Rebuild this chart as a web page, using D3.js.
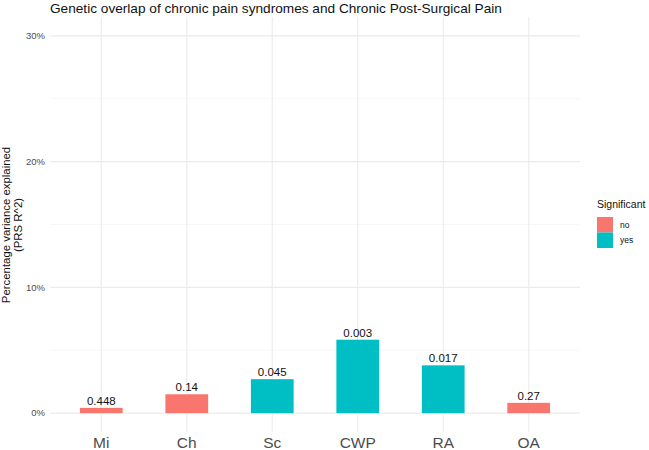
<!DOCTYPE html>
<html><head><meta charset="utf-8">
<script src="https://cdn.jsdelivr.net/npm/d3@7"></script>
<style>body{margin:0;background:#fff;font-family:"Liberation Sans",Arial,sans-serif;}</style>
</head><body>
<svg id="c" width="649" height="450"></svg>
<script>
const categories = ["Mi","Ch","Sc","CWP","RA","OA"];
const values = [0.42, 1.5, 2.7, 5.84, 3.8, 0.82];
const pLabels = ["0.448","0.14","0.045","0.003","0.017","0.27"];
const significant = ["no","no","yes","yes","yes","no"];
const yTicks = [0,10,20,30];
const yMinor = [5,15,25];
const legendLevels = ["no","yes"];
const colors = {no:"#F8766D", yes:"#00BFC4"};

const svg = d3.select("#c");
const L=50, R=580, T=17, B=432;
const x = d3.scalePoint().domain(categories).range([L,R]).padding(0.6);
const step = x.step();
const y = d3.scaleLinear().domain([-1.5,31.5]).range([B,T]);

const g = svg.append("g");
// minor gridlines
g.selectAll(".minor").data(yMinor).enter().append("line")
  .attr("x1",L).attr("x2",R).attr("y1",d=>y(d)).attr("y2",d=>y(d))
  .attr("stroke","#f0f0f0").attr("stroke-width",0.55);
// major gridlines
g.selectAll(".major").data(yTicks).enter().append("line")
  .attr("x1",L).attr("x2",R).attr("y1",d=>y(d)).attr("y2",d=>y(d))
  .attr("stroke","#ebebeb").attr("stroke-width",1.1);
g.selectAll(".vmaj").data(categories).enter().append("line")
  .attr("x1",d=>x(d)).attr("x2",d=>x(d)).attr("y1",T).attr("y2",B)
  .attr("stroke","#ebebeb").attr("stroke-width",1.1);

// bars
const bw = step*0.5;
g.selectAll(".bar").data(categories).enter().append("rect")
  .attr("x",d=>x(d)-bw/2).attr("width",bw)
  .attr("y",(d,i)=>y(values[i])).attr("height",(d,i)=>y(0)-y(values[i]))
  .attr("fill",(d,i)=>colors[significant[i]]);
// bar labels
g.selectAll(".bl").data(categories).enter().append("text")
  .attr("x",d=>x(d)).attr("y",(d,i)=>y(values[i])-3)
  .attr("text-anchor","middle").attr("font-size",11.5).attr("fill","#111")
  .text((d,i)=>pLabels[i]);

// y tick labels
g.selectAll(".yt").data(yTicks).enter().append("text")
  .attr("x",45).attr("y",d=>y(d)).attr("dy","0.35em")
  .attr("text-anchor","end").attr("font-size",9.5).attr("fill","#4d4d4d")
  .text(d=>d+"%");
// x tick labels
g.selectAll(".xt").data(categories).enter().append("text")
  .attr("x",d=>x(d)).attr("y",448)
  .attr("text-anchor","middle").attr("font-size",15.5).attr("fill","#4d4d4d")
  .text(d=>d);

// y title
const yt = svg.append("text").attr("transform","translate(0,225) rotate(-90)")
  .attr("text-anchor","middle").attr("font-size",11.4).attr("fill","#111");
yt.append("tspan").attr("x",0).attr("y",10).text("Percentage variance explained");
yt.append("tspan").attr("x",0).attr("y",21.5).text("(PRS R^2)");

// title
svg.append("text").attr("x",50).attr("y",12.5).attr("font-size",13.65).attr("fill","#111")
  .text("Genetic overlap of chronic pain syndromes and Chronic Post-Surgical Pain");

// legend
svg.append("text").attr("x",597).attr("y",208).attr("font-size",10.5).attr("fill","#111").text("Significant");
const lg = svg.selectAll(".lg").data(legendLevels).enter().append("g")
  .attr("transform",(d,i)=>`translate(597,${217+i*15.5})`);
lg.append("rect").attr("width",16).attr("height",15.5).attr("fill",d=>colors[d]);
lg.append("text").attr("x",23).attr("y",8).attr("dy","0.35em").attr("font-size",8.5).attr("fill","#111").text(d=>d);
</script>
</body></html>
